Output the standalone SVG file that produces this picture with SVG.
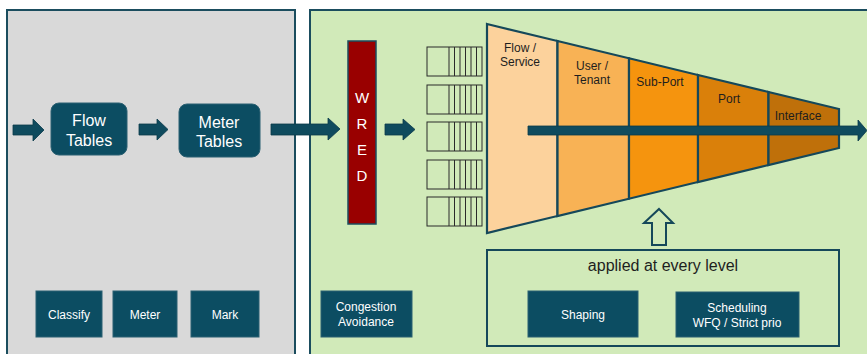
<svg xmlns="http://www.w3.org/2000/svg" width="867" height="354" viewBox="0 0 867 354">
<style>
text{font-family:"Liberation Sans",Arial,sans-serif}
.panel{stroke:#1b4d5e;stroke-width:2}
.node{fill:#0c4d62;stroke:#2b6072;stroke-width:1}
.nt{fill:#ffffff;text-anchor:middle}
.arr{fill:#0f4b5e;stroke:#0a3a4a;stroke-width:0.8}
.q{fill:none;stroke:#2a2a2a;stroke-width:1}
.seg{stroke:#15485a;stroke-width:2.2}
.lbl{fill:#1e1e1e;font-size:12px;text-anchor:middle}
</style>
<rect width="867" height="354" fill="#ffffff"/>
<g id="panel-left"><rect class="panel" x="7" y="10" width="288" height="360" fill="#d9d9d9"/></g>
<g id="panel-right"><rect class="panel" x="310" y="10" width="570" height="360" fill="#d1eab9"/></g>

<g id="flow-tables"><rect class="node" x="51" y="103" width="76" height="52" rx="8"/>
<text class="nt" x="89" y="126" font-size="16">Flow</text><text class="nt" x="89" y="146" font-size="16">Tables</text></g>
<g id="meter-tables"><rect class="node" x="179" y="104" width="81" height="53" rx="8"/>
<text class="nt" x="219" y="128" font-size="16">Meter</text><text class="nt" x="219" y="147" font-size="16">Tables</text></g>

<g id="classify"><rect class="node" x="36" y="291" width="66" height="46"/><text class="nt" x="69" y="319" font-size="12">Classify</text></g>
<g id="meter"><rect class="node" x="113" y="291" width="64" height="46"/><text class="nt" x="145" y="319" font-size="12">Meter</text></g>
<g id="mark"><rect class="node" x="191" y="291" width="68" height="46"/><text class="nt" x="225" y="319" font-size="12">Mark</text></g>
<g id="congestion"><rect class="node" x="321" y="291" width="91" height="46"/>
<text class="nt" x="366" y="311" font-size="12">Congestion</text><text class="nt" x="366" y="326" font-size="12">Avoidance</text></g>

<g id="wred"><rect x="348" y="41" width="28" height="183" fill="#990000" stroke="#1b4d5e" stroke-width="1.5"/>
<text class="nt" font-size="15" x="362" y="103">W</text><text class="nt" font-size="15" x="362" y="129">R</text>
<text class="nt" font-size="15" x="362" y="155">E</text><text class="nt" font-size="15" x="362" y="181">D</text></g>

<g id="queues">
<g><rect class="q" x="427" y="47" width="55" height="29"/><path class="q" d="M449,47V76M454.5,47V76M460,47V76M465.5,47V76M471,47V76M476.5,47V76"/></g>
<g><rect class="q" x="427" y="85" width="55" height="29"/><path class="q" d="M449,85V114M454.5,85V114M460,85V114M465.5,85V114M471,85V114M476.5,85V114"/></g>
<g><rect class="q" x="427" y="122" width="55" height="29"/><path class="q" d="M449,122V151M454.5,122V151M460,122V151M465.5,122V151M471,122V151M476.5,122V151"/></g>
<g><rect class="q" x="427" y="160" width="55" height="29"/><path class="q" d="M449,160V189M454.5,160V189M460,160V189M465.5,160V189M471,160V189M476.5,160V189"/></g>
<g><rect class="q" x="427" y="197" width="55" height="29"/><path class="q" d="M449,197V226M454.5,197V226M460,197V226M465.5,197V226M471,197V226M476.5,197V226"/></g>
</g>

<g id="funnel">
<polygon class="seg" fill="#fcd29c" points="487,24 557.5,41 557.5,216 487,233"/>
<polygon class="seg" fill="#f8b255" points="557.5,41 629,58.3 629,198.7 557.5,216"/>
<polygon class="seg" fill="#f5940e" points="629,58.3 698,75 698,182 629,198.7"/>
<polygon class="seg" fill="#da800a" points="698,75 768.5,92 768.5,165 698,182"/>
<polygon class="seg" fill="#bf700a" points="768.5,92 839,109 839,148 768.5,165"/>
<text class="lbl" x="520" y="52">Flow /</text><text class="lbl" x="520" y="66">Service</text>
<text class="lbl" x="592" y="70">User /</text><text class="lbl" x="592" y="84">Tenant</text>
<text class="lbl" x="660" y="86">Sub-Port</text>
<text class="lbl" x="729" y="103">Port</text>
<text class="lbl" x="798" y="120">Interface</text>
</g>

<g id="applied">
<rect x="487" y="250" width="352" height="96" fill="none" stroke="#15485a" stroke-width="2"/>
<text x="663" y="271" font-size="16" fill="#1e1e1e" text-anchor="middle">applied at every level</text>
<g id="shaping"><rect class="node" x="528" y="291" width="110" height="46"/><text class="nt" x="583" y="319" font-size="12">Shaping</text></g>
<g id="scheduling"><rect class="node" x="676" y="292" width="123" height="45"/>
<text class="nt" x="737" y="312" font-size="12">Scheduling</text><text class="nt" x="737" y="327" font-size="12">WFQ / Strict prio</text></g>
</g>

<g id="connectors">
<path class="arr" d="M13,125H33V119L44,130L33,141V135H13Z"/>
<path class="arr" d="M139,124H157V119L168,129.5L157,140V135H139Z"/>
<path class="arr" d="M271,124H328V118L340,129L328,140V135H271Z"/>
<path class="arr" d="M385,124H403V119L415,129.5L403,140V135H385Z"/>
<path class="arr" d="M528,126H858V120L867,130.5L858,141V135H528Z"/>
<path d="M659,209L673,223H666V245H652V223H644Z" fill="#d1eab9" stroke="#15485a" stroke-width="2"/>
</g>
</svg>
